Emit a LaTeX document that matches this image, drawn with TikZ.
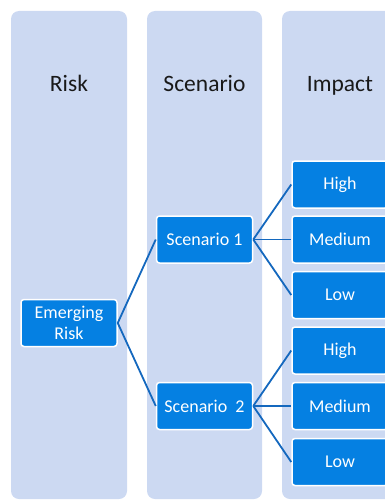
\documentclass[tikz,border=0pt]{standalone}
\usepackage{fontspec}
\setmainfont{Carlito}
\usepackage{tikz}
\usetikzlibrary{positioning, calc}
\definecolor{laneblue}{RGB}{204, 217, 242}
\definecolor{boxblue}{RGB}{5, 128, 226}
\definecolor{linkblue}{RGB}{20, 104, 190}

\tikzset{
    lane/.style={fill=laneblue, rounded corners=8pt, draw=none},
    lanehead/.style={font=\fontsize{23.5}{26}\selectfont, text=black!90, anchor=base},
    riskbox/.style={fill=boxblue, draw=white, line width=1.5pt, rounded corners=3pt,
        minimum width=96pt, minimum height=47pt, text=white, align=center,
        font=\fontsize{18}{21}\selectfont, inner sep=2pt},
    link/.style={draw=linkblue, line width=1.8pt}
}

\begin{document}
\begin{tikzpicture}[x=1pt, y=-1pt]
    \useasboundingbox (0,0) rectangle (385,500);
    % swim lanes
    \fill[lane] (11,11) rectangle (127,499);
    \fill[lane] (147,11) rectangle (262,499);
    \fill[lane] (282,11) rectangle (398,499);
    \node[lanehead] (hrisk) at (69,92) {Risk};
    \node[lanehead] (hscen) at (204.5,92) {Scenario};
    \node[lanehead] (himp) at (340,92) {Impact};
    % boxes
    \node[riskbox] (risk) at (69,323) {Emerging\\Risk};
    \node[riskbox] (scen1) at (204.5,239.5) {Scenario 1};
    \node[riskbox] (scen2) at (204.5,406) {Scenario\ \ 2};
    \node[riskbox] (high1) at (340,184.5) {High};
    \node[riskbox] (med1) at (340,239.5) {Medium};
    \node[riskbox] (low1) at (340,295) {Low};
    \node[riskbox] (high2) at (340,350.5) {High};
    \node[riskbox] (med2) at (340,406) {Medium};
    \node[riskbox] (low2) at (340,462) {Low};
    % links
    \draw[link] (risk.east) -- (scen1.west);
    \draw[link] (risk.east) -- (scen2.west);
    \foreach \t in {high1, med1, low1}
        \draw[link] (scen1.east) -- (\t.west);
    \foreach \t in {high2, med2, low2}
        \draw[link] (scen2.east) -- (\t.west);
\end{tikzpicture}
\end{document}
